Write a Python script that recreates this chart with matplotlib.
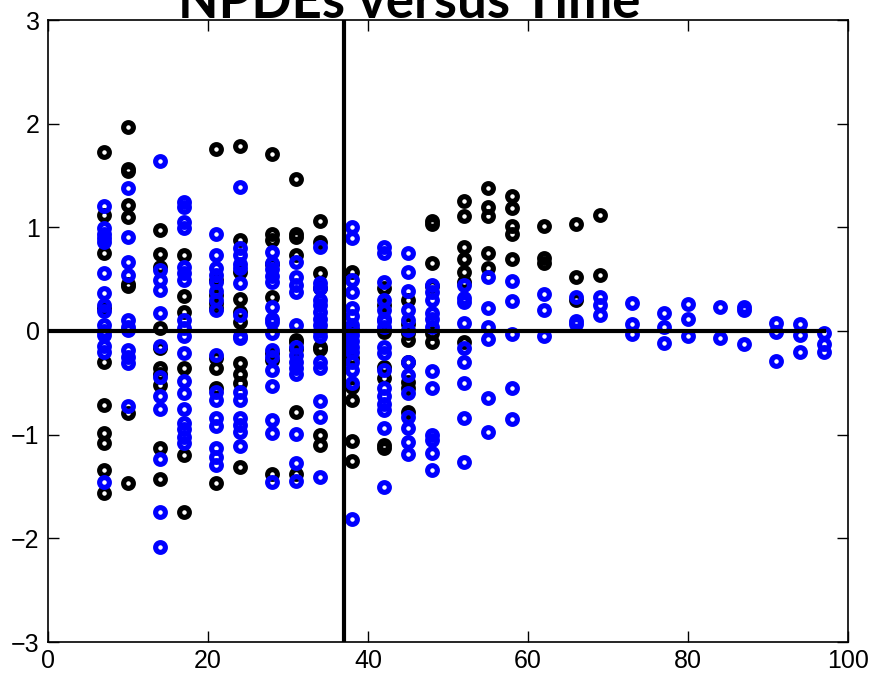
import numpy as np
import matplotlib
matplotlib.use('Agg')
import matplotlib.pyplot as plt

# Время наблюдения (столбцы точек)
times = [7, 10, 14, 17, 21, 24, 28, 31, 34, 38, 42, 45, 48, 52, 55, 58,
         62, 66, 69, 73, 77, 80, 84, 87, 91, 94, 97]

# NPDE первой группы (чёрные кружки), по столбцам времени
black_npde = [
    [1.73, 1.12, 0.75, 0.22, -0.30, -0.71, -0.98, -1.08, -1.34, -1.56],
    [1.97, 1.56, 1.54, 1.22, 1.10, 0.45, 0.43, -0.79, -1.47],
    [0.97, 0.74, 0.62, 0.03, -0.16, -0.36, -0.41, -0.52, -1.13, -1.43],
    [0.73, 0.34, 0.18, -0.36, -1.20, -1.75],
    [1.76, 0.49, 0.35, 0.27, 0.22, -0.26, -0.36, -0.55, -1.47],
    [1.78, 0.88, 0.57, 0.31, 0.18, 0.09, -0.31, -0.41, -0.50, -1.31],
    [1.71, 0.94, 0.88, 0.65, 0.33, -0.21, -0.28, -1.38],
    [1.47, 0.94, 0.91, 0.73, -0.09, -0.11, -0.17, -0.78, -1.38],
    [1.06, 0.86, 0.56, 0.41, -0.15, -0.17, -1.00, -1.10],
    [0.57, 0.01, -0.26, -0.54, -0.67, -1.06, -1.25],
    [0.41, 0.25, 0.01, -0.01, -0.35, -0.45, -1.10, -1.13],
    [0.30, 0.07, -0.02, -0.09, -0.30, -0.49, -0.55, -0.78],
    [1.06, 1.03, 0.66, 0.43, -0.02, -0.11],
    [1.25, 1.11, 0.81, 0.69, 0.57, 0.47, -0.11],
    [1.38, 1.20, 1.11, 0.75, 0.61],
    [1.30, 1.19, 1.01, 0.94, 0.69],
    [1.01, 0.70, 0.66],
    [1.03, 0.52, 0.30],
    [1.12, 0.54],
    [], [], [], [], [], [], [], [],
]

# NPDE второй группы (синие кружки)
blue_npde = [
    [1.21, 0.99, 0.94, 0.90, 0.86, 0.56, 0.37, 0.25, 0.19, 0.06, 0.00, -0.04, -0.14, -0.20, -1.46],
    [1.38, 0.91, 0.67, 0.54, 0.11, 0.04, 0.01, -0.18, -0.25, -0.31, -0.72],
    [1.64, 0.59, 0.49, 0.40, 0.17, -0.14, -0.44, -0.63, -0.75, -1.23, -1.75, -2.08],
    [1.24, 1.20, 1.05, 0.99, 0.62, 0.56, 0.49, 0.11, 0.03, -0.05, -0.21, -0.48, -0.60, -0.75,
     -0.89, -0.95, -1.02, -1.08],
    [0.94, 0.73, 0.61, 0.54, 0.47, 0.39, 0.30, 0.20, -0.23, -0.59, -0.67, -0.84, -0.92, -1.13,
     -1.22, -1.29],
    [1.39, 0.80, 0.73, 0.65, 0.61, 0.46, 0.15, -0.05, -0.07, -0.59, -0.67, -0.84, -0.91, -0.97, -1.11],
    [0.76, 0.66, 0.60, 0.53, 0.47, 0.23, 0.12, 0.09, -0.02, -0.18, -0.25, -0.38, -0.53, -0.86,
     -0.98, -1.46],
    [0.67, 0.52, 0.44, 0.38, 0.06, -0.15, -0.23, -0.30, -0.36, -0.41, -0.99, -1.27, -1.45],
    [0.81, 0.46, 0.41, 0.30, 0.25, 0.18, 0.12, 0.06, 0.00, -0.05, -0.30, -0.36, -0.68, -0.83, -1.41],
    [1.00, 0.90, 0.49, 0.38, 0.22, 0.14, 0.06, 0.02, -0.04, -0.10, -0.15, -0.20, -0.30, -0.38,
     -0.50, -1.81],
    [0.81, 0.75, 0.47, 0.30, 0.20, 0.12, 0.10, 0.04, -0.15, -0.21, -0.38, -0.55, -0.63, -0.70,
     -0.76, -0.94, -1.50],
    [0.75, 0.57, 0.39, 0.20, 0.11, 0.01, -0.30, -0.42, -0.60, -0.83, -0.94, -1.07, -1.19],
    [0.44, 0.38, 0.30, 0.17, 0.12, 0.04, -0.39, -0.55, -1.00, -1.05, -1.18, -1.34],
    [0.44, 0.32, 0.28, 0.08, -0.16, -0.30, -0.50, -0.84, -1.26],
    [0.52, 0.22, 0.04, -0.08, -0.65, -0.97],
    [0.48, 0.29, -0.03, -0.55, -0.85],
    [0.36, 0.20, -0.05],
    [0.33, 0.10, 0.07],
    [0.33, 0.25, 0.15],
    [0.27, 0.07, -0.03],
    [0.17, 0.04, -0.12],
    [0.26, 0.12, -0.05],
    [0.23, -0.07],
    [0.23, 0.20, -0.13],
    [0.08, -0.01, -0.29],
    [0.07, -0.04, -0.20],
    [-0.02, -0.13, -0.20],
]

t_split = 37     # вертикальная линия
t_zero_end = 97  # горизонтальная линия y = 0 тянется до последнего времени


def flatten(groups):
    xs, ys = [], []
    for t, vals in zip(times, groups):
        xs.extend([t] * len(vals))
        ys.extend(vals)
    return np.array(xs), np.array(ys)


bx, by = flatten(black_npde)
ux, uy = flatten(blue_npde)

plt.rcParams['font.family'] = ['Liberation Sans', 'DejaVu Sans']

fig = plt.figure(figsize=(8.77, 6.76), dpi=100)
ax = fig.add_axes([48 / 877, 34 / 676, 800 / 877, 622 / 676])

MS = 7
MEW = 3.7
ax.plot(bx, by, 'o', ms=MS, mew=MEW, mfc='none', mec='black', zorder=2)
ax.plot(ux, uy, 'o', ms=MS, mew=MEW, mfc='none', mec='blue', zorder=3)

ax.plot([0, t_zero_end], [0, 0], color='black', lw=3, zorder=4)
ax.axvline(t_split, color='black', lw=3, zorder=4)

ax.set_xlim(0, 100)
ax.set_ylim(-3, 3)
ax.set_xticks(np.arange(0, 101, 20))
ax.set_yticks(np.arange(-3, 4, 1))
ax.set_yticklabels(['\u22123', '\u22122', '\u22121', '0', '1', '2', '3'])
ax.tick_params(direction='in', length=8, width=1, top=True, right=True,
               labelsize=18)
ax.tick_params(axis='x', pad=5)
ax.tick_params(axis='y', pad=6)
for s in ax.spines.values():
    s.set_linewidth(1.2)

fig.text(409 / 877, 1 - 18 / 676, 'NPDEs versus Time', ha='center', va='baseline',
         fontsize=38, fontweight='bold', family=['Lato', 'DejaVu Sans'])

fig.savefig('out.png', dpi=100)
